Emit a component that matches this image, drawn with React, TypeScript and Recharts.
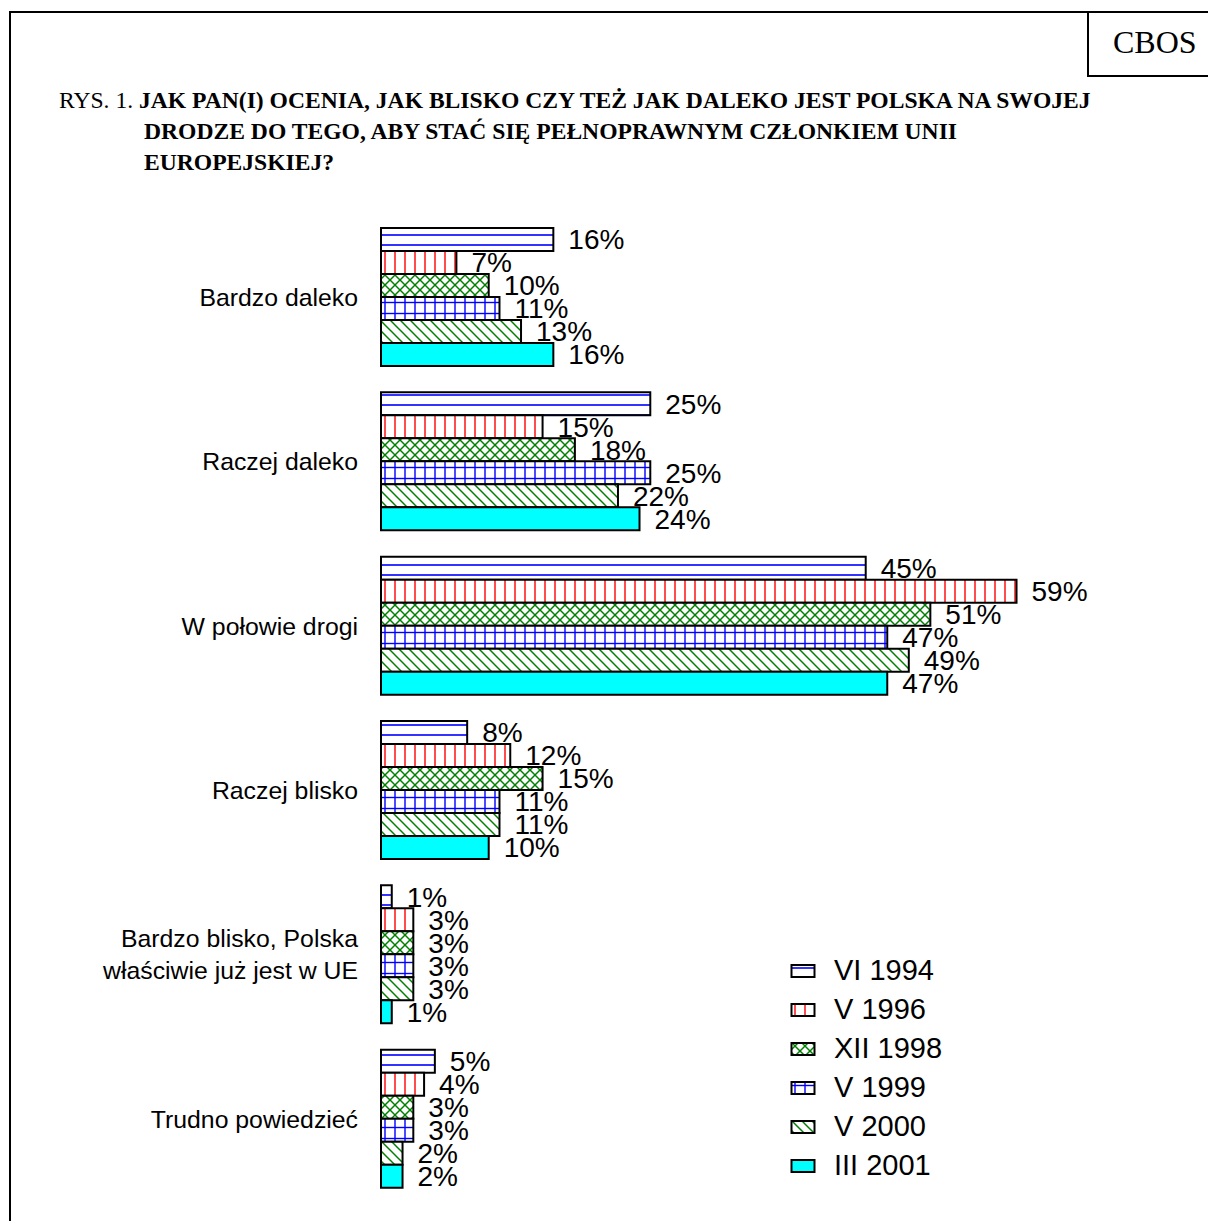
import React from 'react';
import { BarChart, Bar, XAxis, YAxis, LabelList, Legend } from 'recharts';

const categories = [
  'Bardzo daleko',
  'Raczej daleko',
  'W połowie drogi',
  'Raczej blisko',
  'Bardzo blisko, Polska\nwłaściwie już jest w UE',
  'Trudno powiedzieć',
];
const seriesNames = ['VI 1994', 'V 1996', 'XII 1998', 'V 1999', 'V 2000', 'III 2001'];
const s1994 = [16, 25, 45, 8, 1, 5];
const s1996 = [7, 15, 59, 12, 3, 4];
const s1998 = [10, 18, 51, 15, 3, 3];
const s1999 = [11, 25, 47, 11, 3, 3];
const s2000 = [13, 22, 49, 11, 3, 2];
const s2001 = [16, 24, 47, 10, 1, 2];
const seriesValues = [s1994, s1996, s1998, s1999, s2000, s2001];
const seriesKeys = ['k0', 'k1', 'k2', 'k3', 'k4', 'k5'];

const data = categories.map((c, i) => {
  const row: any = { name: c };
  seriesKeys.forEach((k, j) => {
    row[k] = seriesValues[j][i];
  });
  return row;
});

const SANS = '"Liberation Sans", Arial, Helvetica, sans-serif';
const SERIF = '"Liberation Serif", "Times New Roman", Times, serif';

const BLUE = '#0000ff';
const RED = '#ff0000';
const GREEN = '#008000';
const CYAN = '#00ffff';

function PatternDefs({ prefix }: { prefix: string }) {
  return (
    <defs>
      <pattern id={prefix + '0'} patternUnits="userSpaceOnUse" width="10" height="10">
        <rect width="10" height="10" fill="#fff" />
        <line x1="0" y1="5" x2="10" y2="5" stroke={BLUE} strokeWidth="1.6" />
      </pattern>
      <pattern id={prefix + '1'} patternUnits="userSpaceOnUse" width="10" height="10">
        <rect width="10" height="10" fill="#fff" />
        <line x1="5" y1="0" x2="5" y2="10" stroke={RED} strokeWidth="1.4" />
      </pattern>
      <pattern id={prefix + '2'} patternUnits="userSpaceOnUse" width="10" height="10">
        <rect width="10" height="10" fill="#fff" />
        <line x1="0" y1="0" x2="10" y2="10" stroke={GREEN} strokeWidth="1.5" />
        <line x1="10" y1="0" x2="0" y2="10" stroke={GREEN} strokeWidth="1.5" />
      </pattern>
      <pattern id={prefix + '3'} patternUnits="userSpaceOnUse" width="10" height="11">
        <rect width="10" height="11" fill="#fff" />
        <line x1="5" y1="0" x2="5" y2="11" stroke={BLUE} strokeWidth="1.4" />
        <line x1="0" y1="5.5" x2="10" y2="5.5" stroke={BLUE} strokeWidth="1.4" />
      </pattern>
      <pattern id={prefix + '4'} patternUnits="userSpaceOnUse" width="10" height="10">
        <rect width="10" height="10" fill="#fff" />
        <line x1="0" y1="0" x2="10" y2="10" stroke={GREEN} strokeWidth="1.5" />
        <line x1="-1" y1="9" x2="1" y2="11" stroke={GREEN} strokeWidth="1.5" />
        <line x1="9" y1="-1" x2="11" y2="1" stroke={GREEN} strokeWidth="1.5" />
      </pattern>
      <pattern id={prefix + '5'} patternUnits="userSpaceOnUse" width="10" height="10">
        <rect width="10" height="10" fill={CYAN} />
      </pattern>
    </defs>
  );
}

const CategoryTick = (props: any) => {
  const { x, y, payload } = props;
  const lines = String(payload.value).split('\n');
  const lh = 32;
  const start = -((lines.length - 1) * lh) / 2;
  return (
    <g>
      {lines.map((l, i) => (
        <text
          key={i}
          x={x}
          y={y + start + i * lh}
          dy="0.36em"
          textAnchor="end"
          fontFamily={SANS}
          fontSize={24.8}
          fill="#000"
        >
          {l}
        </text>
      ))}
    </g>
  );
};

const LegendContent = () => (
  <div style={{ fontFamily: SANS, fontSize: 29, color: '#000' }}>
    {seriesNames.map((n, i) => (
      <div key={n} style={{ display: 'flex', alignItems: 'center', height: 39 }}>
        <svg width={26} height={16} style={{ display: 'block' }}>
          <PatternDefs prefix={'lg' + i + '_'} />
          <rect x={1.5} y={2} width={23} height={12} fill={`url(#lg${i}_${i})`} stroke="#000" strokeWidth={2} />
        </svg>
        <span style={{ marginLeft: 18, lineHeight: '39px', whiteSpace: 'nowrap' }}>{n}</span>
      </div>
    ))}
  </div>
);

export default function App() {
  return (
    <div
      style={{
        position: 'absolute',
        left: 0,
        top: 0,
        width: 1208,
        height: 1221,
        background: '#fff',
        overflow: 'hidden',
      }}
    >
      {/* outer frame */}
      <div
        style={{
          position: 'absolute',
          left: 9,
          top: 11,
          width: 1300,
          height: 1300,
          borderLeft: '2px solid #000',
          borderTop: '2px solid #000',
        }}
      />
      {/* CBOS box */}
      <div
        style={{
          position: 'absolute',
          left: 1087,
          top: 11,
          width: 200,
          height: 64,
          borderLeft: '2px solid #000',
          borderBottom: '2.5px solid #000',
        }}
      />
      <div
        style={{
          position: 'absolute',
          left: 1113,
          top: 24,
          fontFamily: SERIF,
          fontSize: 32,
          lineHeight: '36px',
          color: '#000',
          whiteSpace: 'nowrap',
        }}
      >
        CBOS
      </div>
      {/* title */}
      <div
        style={{
          position: 'absolute',
          left: 59,
          top: 85,
          fontFamily: SERIF,
          fontSize: 23.6,
          lineHeight: '31px',
          color: '#000',
          whiteSpace: 'nowrap',
        }}
      >
        <div>
          RYS. 1. <b>JAK PAN(I) OCENIA, JAK BLISKO CZY TEŻ JAK DALEKO JEST POLSKA NA SWOJEJ</b>
        </div>
        <div style={{ paddingLeft: 85 }}>
          <b>DRODZE DO TEGO, ABY STAĆ SIĘ PEŁNOPRAWNYM CZŁONKIEM UNII</b>
        </div>
        <div style={{ paddingLeft: 85 }}>
          <b>EUROPEJSKIEJ?</b>
        </div>
      </div>
      <div style={{ position: 'absolute', left: 0, top: 0 }}>
        <BarChart
          width={1208}
          height={1221}
          data={data}
          layout="vertical"
          margin={{ top: 215, right: 73, bottom: 20, left: 0 }}
          barGap={0}
          barSize={23}
        >
          <PatternDefs prefix="pt" />
          <XAxis type="number" domain={[0, 70]} hide />
          <YAxis
            type="category"
            dataKey="name"
            width={381}
            axisLine={false}
            tickLine={false}
            tickSize={0}
            tickMargin={23}
            tick={<CategoryTick />}
            interval={0}
          />
          <Legend
            layout="vertical"
            align="center"
            verticalAlign="middle"
            content={<LegendContent />}
            wrapperStyle={{ left: 790, top: 951, width: 220 }}
          />
          {seriesKeys.map((k, i) => (
            <Bar
              key={k}
              dataKey={k}
              name={seriesNames[i]}
              fill={`url(#pt${i})`}
              stroke="#000"
              strokeWidth={2}
              isAnimationActive={false}
            >
              <LabelList
                dataKey={k}
                position="right"
                offset={15}
                formatter={(v: any) => `${v}%`}
                style={{ fontFamily: SANS, fontSize: 28, fill: '#000' }}
              />
            </Bar>
          ))}
        </BarChart>
      </div>
    </div>
  );
}
